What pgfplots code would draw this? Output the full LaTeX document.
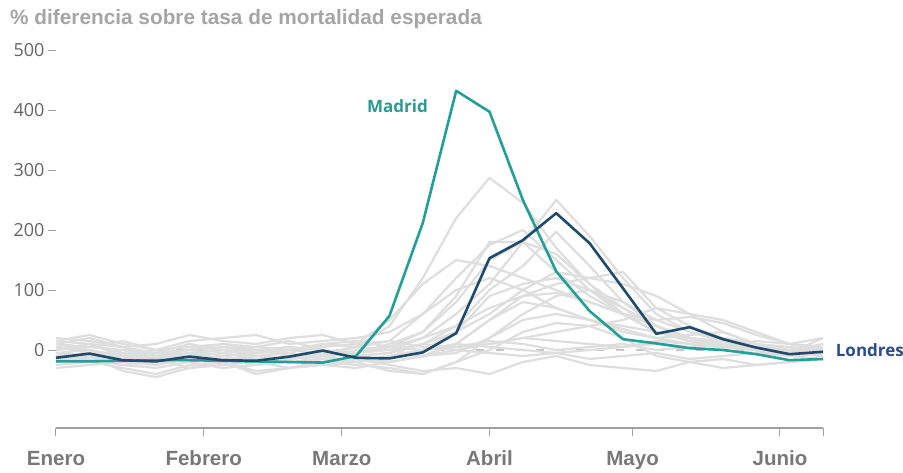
\documentclass[border=0pt]{standalone}
\usepackage{fontspec}
\setmainfont{Liberation Sans}
\newfontfamily\osans{Open Sans}
\usepackage{pgfplots}
\pgfplotsset{compat=1.18}
\usepackage{pgfplotstable}

\definecolor{madrid}{RGB}{32,160,150}
\definecolor{londres}{RGB}{30,75,105}
\definecolor{madridlab}{RGB}{42,154,145}
\definecolor{londreslab}{RGB}{43,76,140}
\definecolor{gline}{RGB}{222,222,222}
\definecolor{ticklab}{RGB}{100,100,100}
\definecolor{xlab}{RGB}{120,120,120}
\definecolor{titlec}{RGB}{165,165,165}
\definecolor{axc}{RGB}{160,160,160}

% weekly excess mortality (%), week 0 = 1 January
\pgfplotstableread{
w  g1  g2  g3  g4  g5  g6  g7  g8  g9  g10 g11 g12 g13 g14 g15 g16 g17 g18 g19 g20 g21 g22 mad lon
0  10  -20 0   -10 5   -15 -5  15  -25 0   -10 10  -20 20  -5  5   -30 10  0   -15 -5  15  -19 -13
1  20  -15 10  -5  0   -20 -10 25  -20 5   -15 5   -10 15  0   -5  -25 0   10  -10 -15 10  -19 -6
2  5   -25 -5  -20 -10 -10 0   10  -30 0   -5  15  -35 5   -10 -15 -20 -20 -10 -20 -25 5   -18 -17
3  -10 -30 -15 -10 -5  -25 -15 0   -40 -5  -20 0   -45 10  -15 -5  -15 -25 0   -10 -20 -5  -17 -19
4  0   -20 -10 -5  0   -15 -20 15  -25 10  -10 5   -30 25  -5  -10 -30 -10 5   -20 -10 0   -17 -11
5  5   -10 5   -15 -10 -20 -30 20  -20 0   -25 10  -20 15  0   -20 -25 -5  -5  -15 -5  10  -18 -17
6  -5  -20 0   -20 -5  -10 -25 25  -35 -5  -15 0   -40 10  -10 -5  -20 0   5   -25 -15 5   -19 -18
7  0   -15 -10 -10 0   -15 -15 10  -30 5   -20 -5  -30 20  -5  0   -30 5   15  -20 -10 0   -20 -11
8  10  -10 -5  0   5   -5  -10 15  -20 0   -25 10  -20 25  -15 -5  -25 -10 0   -15 -20 10  -21 -1
9  5   -5  5   -10 10  -10 -20 20  -25 -5  -30 15  -15 10  0   -10 -20 5   -5  -20 -15 5   -10 -13
10 40  0   15  -5  50  -20 -10 30  -30 5   -20 5   -25 15  5   -5  -35 0   10  -10 -20 0   57  -14
11 120 20  60  10  110 -10 0   60  -40 20  -10 0   -35 5   30  10  -40 -10 30  0   -10 10  212 -4
12 220 60  120 40  150 10  30  100 -20 40  10  10  -30 0   80  30  -20 -5  90  5   0   5   432 28
13 287 110 175 100 140 50  90  120 20  70  50  5   -40 10  150 60  0   20  180 10  -5  15  397 153
14 245 180 200 140 120 90  110 100 60  90  80  0   -20 20  180 100 30  50  180 20  -10 10  250 183
15 170 250 150 197 100 110 120 70  90  95  70  -5  -10 15  130 130 45  60  160 30  -5  0   131 228
16 110 190 100 140 80  120 100 50  100 80  50  0   -25 10  90  120 40  50  110 40  -15 5   65  178
17 70  120 60  80  60  130 70  35  80  60  30  5   -30 5   60  110 20  40  60  50  -10 10  18  103
18 40  60  30  40  40  70  40  20  50  50  20  10  -35 15  30  90  -10 30  30  70  -5  0   11  27
19 20  30  15  20  20  40  20  10  30  55  25  5   -20 10  20  60  -20 20  15  60  -15 5   3   38
20 10  15  5   10  10  20  5   5   20  45  30  0   -15 5   10  30  -30 15  5   50  -10 10  0   18
21 5   5   0   0   5   10  0   15  10  25  10  -5  -25 0   5   10  -25 5   0   30  -5  0   -7  4
22 0   0   -10 -5  0   0   -10 10  0   10  -5  0   -20 -5  -5  5   -20 0   -5  10  -10 -5  -17 -7
23 5   -5  -5  -10 0   -5  -15 20  -10 5   -10 10  -15 20  -10 0   -15 5   0   0   -5  5   -15 -3
}\mortdata

\begin{document}
\begin{tikzpicture}[x=1pt,y=1pt]
\useasboundingbox (0,0) rectangle (903,473);
\node[anchor=base west, inner sep=0, text=titlec,
      font=\bfseries\fontsize{20.8}{24}\selectfont] at (10,448.5)
  {\% diferencia sobre tasa de mortalidad esperada};
\begin{axis}[
  at={(56pt,45pt)}, anchor=south west,
  scale only axis, width=767pt, height=390pt,
  xmin=0, xmax=23, ymin=-130, ymax=520,
  clip=false,
  axis x line=bottom, axis y line=left,
  x axis line style={draw=axc, line width=1.3pt, -},
  y axis line style={draw=none},
  tick align=outside, major tick length=8pt,
  xtick={0,4.43,8.57,13,17.29,21.71,23},
  xticklabels={Enero,Febrero,Marzo,Abril,Mayo,Junio,{}},
  ytick={0,100,...,500},
  x tick style={draw=axc, line width=1pt},
  y tick style={draw=axc, line width=0.8pt},
  xticklabel style={font=\bfseries\fontsize{20.5}{22}\selectfont, text=xlab,
    text height=15pt, text depth=0pt, anchor=north, yshift=-11pt},
  yticklabel style={font=\osans\fontsize{18}{18}\selectfont, text=ticklab,
    /pgf/number format/assume math mode=true},
  every axis plot/.append style={line join=round},
]
\addplot[gray!45, line width=1.5pt, dash pattern=on 8pt off 12pt] coordinates {(3,0) (23,0)};
\pgfplotsinvokeforeach{g1,g2,g3,g4,g5,g6,g7,g8,g9,g10,g11,g12,g13,g14,g15,g16,g17,g18,g19,g20,g21,g22}{
  \addplot[gline, line width=2.2pt] table[x=w, y=#1] {\mortdata};
}
\addplot[madrid, line width=2.6pt] table[x=w, y=mad] {\mortdata};
\addplot[londres, line width=2.6pt] table[x=w, y=lon] {\mortdata};
\node[text=madridlab, font=\osans\bfseries\fontsize{17}{17}\selectfont] at (axis cs:10.24,407) {Madrid};
\node[anchor=west, inner sep=0, text=londreslab, font=\osans\bfseries\fontsize{17}{17}\selectfont] at (axis cs:23.38,0) {Londres};
\end{axis}
\end{tikzpicture}
\end{document}
